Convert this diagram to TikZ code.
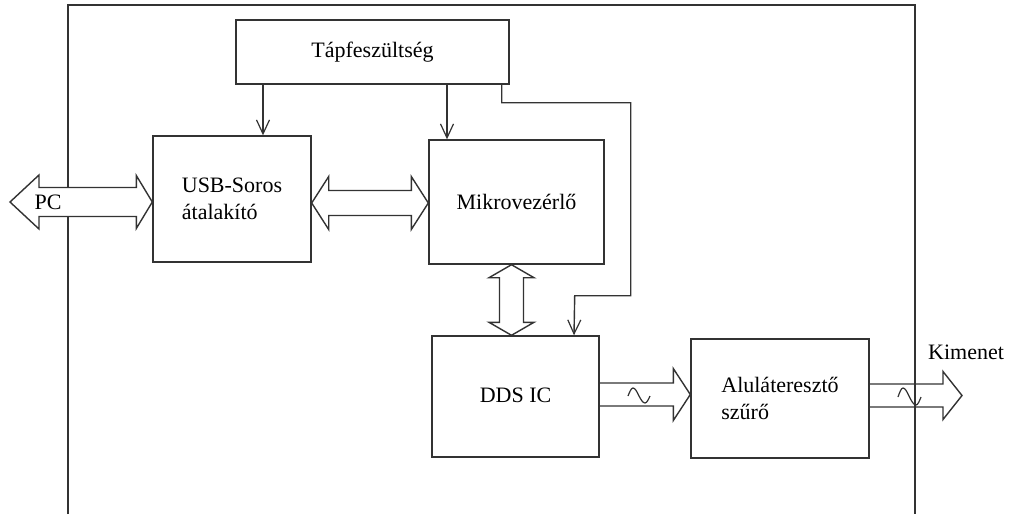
\documentclass[tikz,border=0pt]{standalone}
\usepackage{fontspec}
\setmainfont{Liberation Serif}
\usetikzlibrary{arrows.meta,calc}
\begin{document}
\begin{tikzpicture}[x=1pt,y=-1pt,
  line width=1.4pt,
  every node/.style={font=\fontsize{22}{27}\selectfont, text=black},
  box/.style={draw=black!80, rectangle, fill=white, inner sep=0pt},
  blk/.style={draw=black!80, fill=white, line join=miter},
  openblk/.style={draw=black!80, line join=miter},
  pw/.style={draw=black!80, -{Straight Barb[length=14pt,width=13pt,line width=1.2pt]}},
  wave/.style={draw=black!80, line width=1.2pt},
  frame/.style={draw=black!80}
]
\useasboundingbox (0,0) rectangle (1009,514);

% outer frame (open at the bottom)
\draw[frame] (68,514) -- (68,5) -- (915,5) -- (915,514);

% blocks
\node[box, minimum width=273pt, minimum height=64pt] (tap) at (372.5,52) {Tápfeszültség};
\node[box, minimum width=158pt, minimum height=126pt, align=left] (usb) at (232,199) {USB-Soros\\átalakító};
\node[box, minimum width=175pt, minimum height=124pt] (mcu) at (516.5,202) {Mikrovezérlő};
\node[box, minimum width=167pt, minimum height=121pt] (dds) at (515.5,396.5) {\raisebox{2pt}{DDS IC}};
\node[box, minimum width=178pt, minimum height=119pt, align=left] (lpf) at (780,398.5) {Aluláteresztő\\szűrő};

% power supply lines
\draw[pw] (tap.south -| 263,0) -- (usb.north -| 263,0);
\draw[pw] (tap.south -| 447,0) -- (mcu.north -| 447,0);
\draw[pw] ([xshift=-8pt]tap.south east) -- ++(0,18) -- ++(129,0) -- ++(0,193) -- ++(-56,0) -- (dds.north -| 574,0);

% PC <-> USB-serial converter
\coordinate (pc) at (10,202);
\coordinate (usbL) at (usb.west |- 0,202);
\draw[blk] (pc) -- ++(29,-27) -- ++(0,12.5) -- ($(usbL)+(-16,-14.5)$) -- ++(0,-12) -- (usbL)
  -- ++(-16,26.5) -- ++(0,-12) -- ($(pc)+(29,14.5)$) -- ++(0,12.5) -- cycle;
\node (pclabel) at (48,202) {PC};

% USB-serial converter <-> microcontroller
\coordinate (uR) at (usb.east |- 0,203);
\coordinate (mL) at (mcu.west |- 0,203);
\draw[blk] (uR) -- ++(17,-26.5) -- ++(0,14) -- ($(mL)+(-17,-12.5)$) -- ++(0,-14) -- (mL)
  -- ++(-17,26.5) -- ++(0,-14) -- ($(uR)+(17,12.5)$) -- ++(0,14) -- cycle;

% microcontroller <-> DDS
\coordinate (mB) at (mcu.south -| 511.5,0);
\coordinate (dT) at (dds.north -| 511.5,0);
\draw[blk] (mB) -- ++(22.5,13) -- ++(-10.5,0) -- ($(dT)+(12,-13)$) -- ++(10.5,0) -- (dT)
  -- ++(-22.5,-13) -- ++(10.5,0) -- ($(mB)+(-12,13)$) -- ++(-10.5,0) -- cycle;

% DDS -> low-pass filter
\coordinate (dR) at (dds.east |- 0,394.5);
\coordinate (fL) at (lpf.west |- 0,394.5);
\draw[openblk] ($(dR)+(0,-11.5)$) -- ($(fL)+(-17,-11.5)$) -- ++(0,-14.5) -- (fL)
  -- ++(-17,26) -- ++(0,-14.5) -- ($(dR)+(0,11.5)$);
\draw[wave] (628,396) sin (633,388) cos (639,396) sin (645,403) cos (650,396);

% low-pass filter -> output
\coordinate (fR) at (lpf.east |- 0,395.5);
\coordinate (out) at (962,395.5);
\draw[openblk] ($(fR)+(0,-11.5)$) -- ($(out)+(-19,-11.5)$) -- ++(0,-12.5) -- (out)
  -- ++(-19,24) -- ++(0,-12.5) -- ($(fR)+(0,11.5)$);
\draw[wave] (898,397) sin (903,388) cos (909,396) sin (916,405) cos (921,397);
\node (outlabel) at (966,352) {Kimenet};
\end{tikzpicture}
\end{document}
